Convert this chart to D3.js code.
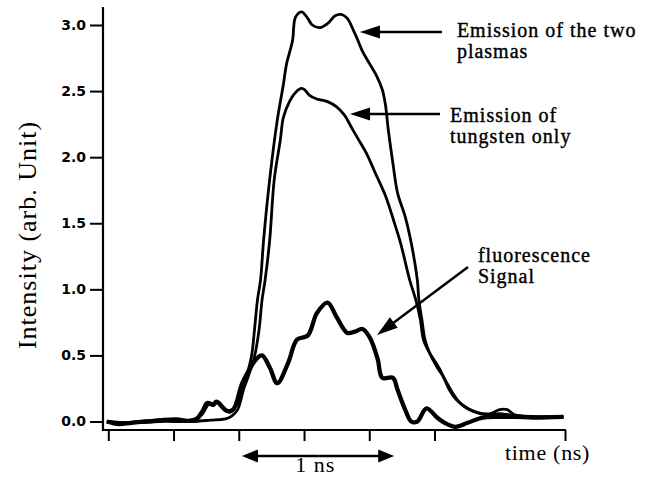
<!DOCTYPE html>
<html>
<head>
<meta charset="utf-8">
<script src="https://cdn.jsdelivr.net/npm/d3@7"></script>
<style>
  html, body { margin: 0; padding: 0; background: #fff; }
  svg { display: block; }
</style>
</head>
<body>
<svg id="chart" width="652" height="480"></svg>
<script>
// ---- Data (time in ns, intensity in arb. units) ----
const twoPlasmasT = [-0.01,0.08,0.21,0.34,0.47,0.57,0.62,0.66,0.69,0.72,0.76,0.80,0.84,0.87,0.90,0.94,0.96,0.98,1.00,1.02,1.06,1.11,1.15,1.17,1.21,1.23,1.27,1.31,1.34,1.39,1.44,1.49,1.53,1.57,1.61,1.63,1.67,1.72,1.76,1.80,1.82,1.84,1.87,1.90,1.95,1.99,2.03,2.04,2.06,2.08,2.11,2.16,2.20,2.24,2.29,2.36,2.42,2.51,2.57,2.62,2.67,2.79,2.99];
const twoPlasmasV = [0.00,-0.01,0.00,0.01,0.01,0.01,0.06,0.13,0.12,0.15,0.10,0.07,0.12,0.20,0.31,0.49,0.69,0.92,1.07,1.37,1.83,2.28,2.55,2.70,2.88,3.06,3.10,3.05,3.00,2.98,3.01,3.07,3.08,3.05,2.96,2.91,2.80,2.70,2.62,2.51,2.40,2.20,1.95,1.73,1.55,1.35,1.07,0.92,0.77,0.62,0.52,0.41,0.34,0.24,0.16,0.10,0.07,0.06,0.09,0.09,0.05,0.035,0.035];

const tungstenT = [-0.01,0.14,0.34,0.54,0.67,0.77,0.81,0.85,0.87,0.89,0.91,0.96,0.99,1.01,1.03,1.06,1.09,1.13,1.15,1.19,1.23,1.27,1.29,1.32,1.37,1.44,1.50,1.55,1.60,1.64,1.70,1.75,1.82,1.88,1.92,1.98,2.02,2.05,2.07,2.11,2.17,2.21,2.26,2.31,2.37,2.44,2.51,2.57,2.64,2.74,2.99];
const tungstenV = [0.00,-0.01,0.00,0.00,0.01,0.02,0.04,0.09,0.16,0.25,0.31,0.49,0.69,0.92,1.07,1.37,1.83,2.13,2.30,2.42,2.49,2.52,2.51,2.47,2.44,2.42,2.38,2.32,2.22,2.14,2.02,1.89,1.71,1.50,1.35,1.07,0.92,0.77,0.62,0.52,0.41,0.32,0.22,0.14,0.09,0.06,0.05,0.06,0.05,0.04,0.035];

const fluoT = [-0.01,0.07,0.15,0.25,0.35,0.45,0.52,0.58,0.62,0.65,0.69,0.71,0.78,0.82,0.88,0.93,0.97,1.01,1.06,1.11,1.18,1.24,1.31,1.37,1.44,1.50,1.57,1.62,1.67,1.72,1.77,1.80,1.87,1.90,1.95,1.99,2.03,2.09,2.16,2.21,2.28,2.36,2.46,2.57,2.68,2.79,2.99];
const fluoV = [0.00,-0.02,-0.01,0.00,0.01,0.015,0.005,0.02,0.08,0.14,0.13,0.15,0.08,0.09,0.29,0.40,0.47,0.50,0.41,0.29,0.44,0.62,0.65,0.82,0.90,0.79,0.67,0.68,0.70,0.63,0.47,0.33,0.33,0.24,0.09,0.00,0.00,0.10,0.03,-0.01,-0.04,-0.01,0.03,0.035,0.035,0.03,0.035];

const yTickValues = [0, 0.5, 1.0, 1.5, 2.0, 2.5, 3.0];
const xTickValues = [0, 3/7, 6/7, 9/7, 12/7, 15/7, 21/7]; // 18/7 tick absent in original

const annoTwo = ["Emission of the two", "plasmas"];
const annoTung = ["Emission of", "tungsten only"];
const annoFluo = ["fluorescence", "Signal"];
const xLabel = "time (ns)";
const yLabel = "Intensity (arb. Unit)";
const scaleLabel = "1 ns";

// ---- Layout ----
const svg = d3.select("#chart");
const x = d3.scaleLinear().domain([0, 3]).range([108.3, 565]);
const y = d3.scaleLinear().domain([0, 3]).range([421.5, 25]);
const axisX0 = 103, axisYtop = 7, axisYbot = 430;
const serif = "'Liberation Serif', 'Times New Roman', serif";

const line = d3.line().x(d => x(d[0])).y(d => y(d[1])).curve(d3.curveCatmullRom.alpha(0.5));
const zip = (a, b) => a.map((v, i) => [v, b[i]]);

const g = svg.append("g");

// curves
g.append("path").datum(zip(tungstenT, tungstenV)).attr("d", line)
  .attr("fill", "none").attr("stroke", "#000").attr("stroke-width", 2.8).attr("stroke-linejoin", "round");
g.append("path").datum(zip(twoPlasmasT, twoPlasmasV)).attr("d", line)
  .attr("fill", "none").attr("stroke", "#000").attr("stroke-width", 2.8).attr("stroke-linejoin", "round");
g.append("path").datum(zip(fluoT, fluoV)).attr("d", line)
  .attr("fill", "none").attr("stroke", "#000").attr("stroke-width", 4.3).attr("stroke-linejoin", "round");

// y axis
const yAxis = d3.axisLeft(y).tickValues(yTickValues).tickFormat(d3.format(".1f")).tickSize(13).tickPadding(4);
const yg = svg.append("g").attr("transform", `translate(${axisX0},0)`).call(yAxis);
yg.select(".domain").remove();
yg.selectAll(".tick line").attr("stroke", "#000").attr("stroke-width", 2);
yg.selectAll(".tick text").attr("font-family", "'DejaVu Sans', sans-serif").attr("font-weight", "bold")
  .attr("font-size", 14).attr("fill", "#000");
svg.append("line").attr("x1", axisX0).attr("x2", axisX0).attr("y1", axisYtop).attr("y2", axisYbot + 1)
  .attr("stroke", "#000").attr("stroke-width", 2.2);

// x axis
const xAxis = d3.axisBottom(x).tickValues(xTickValues).tickFormat("").tickSize(11);
const xg = svg.append("g").attr("transform", `translate(0,${axisYbot})`).call(xAxis);
xg.select(".domain").remove();
xg.selectAll(".tick line").attr("stroke", "#000").attr("stroke-width", 2);
svg.append("line").attr("x1", axisX0 - 1).attr("x2", x(3) + 1).attr("y1", axisYbot).attr("y2", axisYbot)
  .attr("stroke", "#000").attr("stroke-width", 2.2);

// axis labels
svg.append("text").attr("transform", `translate(36,235) rotate(-90)`).attr("text-anchor", "middle")
  .attr("font-family", serif).attr("font-size", 26)
  .attr("letter-spacing", 1).attr("fill", "#000").text(yLabel);
svg.append("text").attr("x", 505).attr("y", 460)
  .attr("font-family", serif).attr("font-size", 22)
  .attr("letter-spacing", 0.7).attr("fill", "#000").text(xLabel);

// arrows
function arrow(x1, y1, x2, y2, len, half, sw) {
  const dx = x2 - x1, dy = y2 - y1, L = Math.hypot(dx, dy);
  const ux = dx / L, uy = dy / L;
  const bx = x2 - ux * len, by = y2 - uy * len;
  svg.append("line").attr("x1", x1).attr("y1", y1).attr("x2", bx + ux * 2).attr("y2", by + uy * 2)
    .attr("stroke", "#000").attr("stroke-width", sw);
  svg.append("polygon").attr("points",
    `${x2},${y2} ${bx - uy * half},${by + ux * half} ${bx + uy * half},${by - ux * half}`).attr("fill", "#000");
}
arrow(x(2.192), y(2.947), x(1.653), y(2.947), 20, 6.5, 2.5);
arrow(x(2.179), y(2.327), x(1.588), y(2.327), 20, 6.5, 2.5);
arrow(x(2.363), y(1.169), x(1.765), y(0.654), 21, 6.5, 2.5);
// scale bar double arrow (1 ns)
const sbY = y(-0.261);
arrow(x(1.38), sbY, x(0.878), sbY, 16, 6.5, 2.5);
arrow(x(1.38), sbY, x(1.878), sbY, 16, 6.5, 2.5);
svg.append("text").attr("x", x(1.36)).attr("y", 472).attr("text-anchor", "middle")
  .attr("font-family", serif).attr("font-size", 22)
  .attr("letter-spacing", 1).attr("fill", "#000").text(scaleLabel);

// annotation texts
function anno(lines, tx, baseY, lh) {
  const t = svg.append("text").attr("font-family", serif)
    .attr("font-size", 20).attr("letter-spacing", 1).attr("fill", "#000")
    .attr("stroke", "#000").attr("stroke-width", 0.4);
  lines.forEach((s, i) => t.append("tspan").attr("x", x(tx)).attr("y", baseY + i * lh).text(s));
}
anno(annoTwo, 2.29, 37, 21);
anno(annoTung, 2.245, 122, 21);
anno(annoFluo, 2.428, 262, 21);
</script>
</body>
</html>
